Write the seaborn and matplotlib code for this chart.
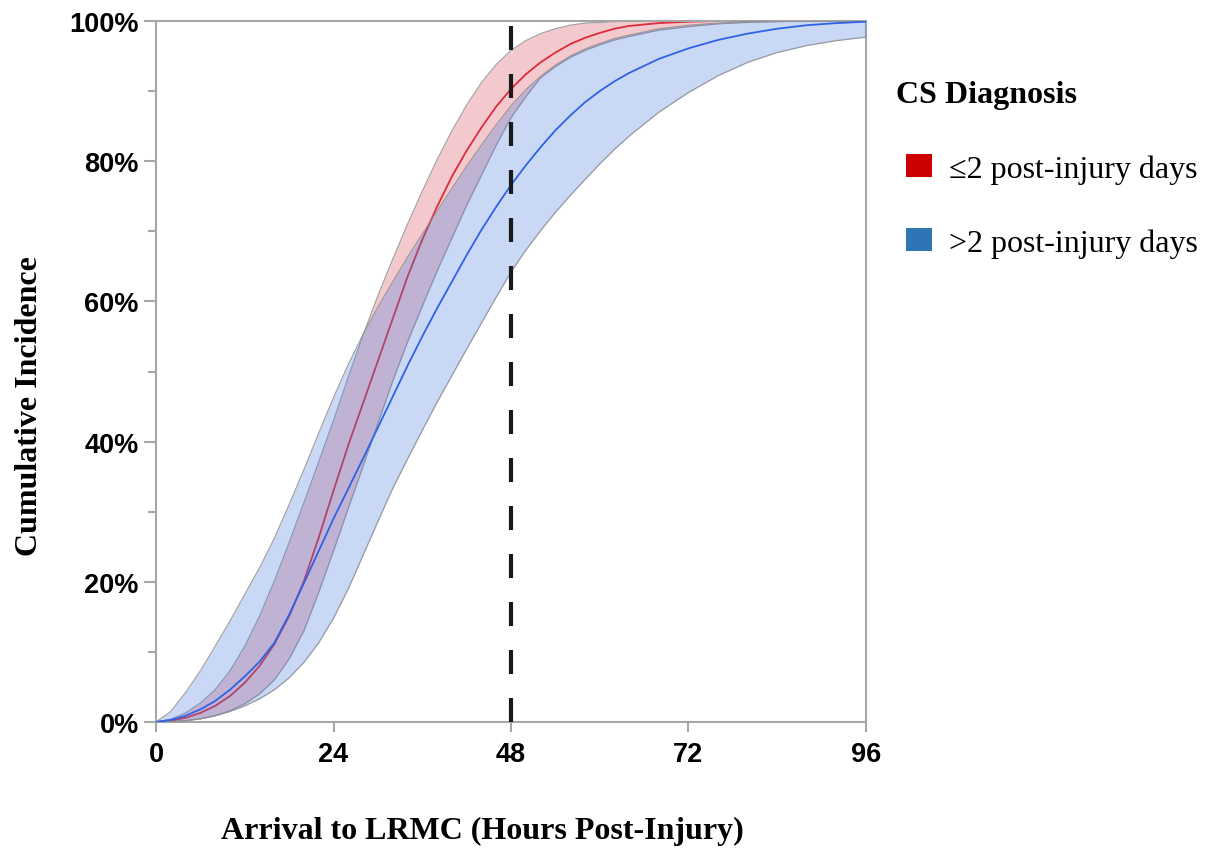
import matplotlib
matplotlib.use("Agg")
import matplotlib.pyplot as plt
from matplotlib.patches import Patch
from matplotlib.ticker import FuncFormatter, MultipleLocator
import seaborn as sns

# cumulative incidence (percent):
# every 2 h up to 64 h, then every 4 h
hours = [0, 2, 4, 6, 8, 10, 12, 14, 16, 18, 20, 22, 24, 26, 28, 30, 32,
         34, 36, 38, 40, 42, 44, 46, 48, 50, 52, 54, 56, 58, 60, 62, 64,
         68, 72, 76, 80, 84, 88, 92, 96]

red_mid = [0, 0.2, 0.6, 1.3, 2.3, 3.7, 5.6, 8, 11.1, 15.1, 20.1, 26.3, 33,
           39.5, 45.5, 51.5, 57.5, 63.5, 68.8, 73.5, 77.8, 81.5, 84.8, 87.8,
           90.3, 92.4, 94.1, 95.5, 96.7, 97.6, 98.3, 98.9, 99.3,
           99.7, 99.9, 100, 100, 100, 100, 100, 100]
red_hi = [0, 0.4, 1.3, 2.7, 4.6, 7.3, 10.8, 15.1, 20.1, 25.6, 31.3, 37.1, 43,
          49.2, 55.2, 60.8, 66, 71, 75.7, 80.2, 84.3, 88, 91.2, 93.8,
          95.8, 97.2, 98.2, 98.9, 99.4, 99.7, 99.8, 99.9, 100,
          100, 100, 100, 100, 100, 100, 100, 100]
red_lo = [0, 0.05, 0.2, 0.45, 0.9, 1.6, 2.6, 4, 6, 9, 13, 18.5, 24.4,
          30.5, 36.5, 42.6, 48.6, 54.2, 59.3, 64.3, 69, 73.7, 78, 82.3,
          86.2, 89.2, 91.9, 93.5, 94.8, 95.8, 96.6, 97.3, 97.8,
          98.7, 99.2, 99.6, 99.8, 99.9, 100, 100, 100]

blue_mid = [0, 0.3, 0.9, 1.8, 3, 4.6, 6.5, 8.6, 11.3, 15.3, 19.8, 24.4, 29,
            33.3, 37.6, 42, 46.4, 50.8, 55, 59, 62.8, 66.6, 70.2, 73.5,
            76.6, 79.4, 82, 84.4, 86.5, 88.4, 90, 91.4, 92.6,
            94.6, 96.1, 97.3, 98.2, 98.9, 99.4, 99.7, 99.9]
blue_hi = [0, 1.5, 4.2, 7.3, 10.8, 14.4, 18.2, 22, 26.2, 31, 36, 41.2, 46.3,
           51, 55.3, 59.2, 62.8, 66.3, 69.6, 72.9, 76.1, 79.3, 82.3, 85.2,
           87.9, 90.2, 92.1, 93.7, 95, 96, 96.8, 97.5, 98,
           98.9, 99.4, 99.7, 99.9, 100, 100, 100, 100]
blue_lo = [0, 0.05, 0.2, 0.45, 0.9, 1.5, 2.3, 3.3, 4.6, 6.3, 8.5, 11.3, 14.8,
           19, 23.8, 28.6, 33.3, 37.5, 41.6, 45.6, 49.4, 53.2, 56.9, 60.6,
           64.2, 67.3, 70.1, 72.7, 75.1, 77.4, 79.6, 81.7, 83.6,
           87, 89.8, 92.2, 94.1, 95.5, 96.5, 97.2, 97.7]

cutoff_hour = 48
x_ticks = [0, 24, 48, 72, 96]
legend_labels = ["\u22642 post-injury days", ">2 post-injury days"]

sns.set_theme(style="white")
serif = ["Liberation Serif", "DejaVu Serif"]
sans = ["Liberation Sans", "DejaVu Sans"]
plt.rcParams["font.family"] = serif
plt.rcParams["text.color"] = "black"
plt.rcParams["axes.labelcolor"] = "black"

fig = plt.figure(figsize=(12.08, 8.53), dpi=100)
ax = fig.add_axes([156 / 1208, 1 - 723 / 853, 710 / 1208, 701 / 853])

edge = dict(color="#8c8c8c", lw=0.9, alpha=0.8)

# red group first, blue band drawn over it
ax.fill_between(hours, red_lo, red_hi, color="#d94050", alpha=0.28, lw=0, zorder=1)
sns.lineplot(x=hours, y=red_hi, ax=ax, zorder=2, **edge)
sns.lineplot(x=hours, y=red_lo, ax=ax, zorder=2, **edge)
sns.lineplot(x=hours, y=red_mid, ax=ax, color="#dc2b3c", lw=1.3, zorder=2)

ax.fill_between(hours, blue_lo, blue_hi, color="#4a7fe0", alpha=0.3, lw=0, zorder=3)
sns.lineplot(x=hours, y=blue_hi, ax=ax, zorder=4, **edge)
sns.lineplot(x=hours, y=blue_lo, ax=ax, zorder=4, **edge)
sns.lineplot(x=hours, y=blue_mid, ax=ax, color="#2f62e6", lw=1.3, zorder=4)

ax.plot([cutoff_hour, cutoff_hour], [99.3, 0], color="#1a1a1a", lw=3,
        dashes=(5.76, 5.76), zorder=5)

ax.set_xlim(0, 96)
ax.set_ylim(0, 100)
ax.set_xticks(x_ticks)
ax.yaxis.set_major_locator(MultipleLocator(20))
ax.yaxis.set_minor_locator(MultipleLocator(10))
ax.yaxis.set_major_formatter(FuncFormatter(lambda v, p: f"{v:.0f}%"))

for s in ax.spines.values():
    s.set_color("#a6a6a6")
    s.set_linewidth(1.5)

ax.tick_params(axis="y", which="major", left=True, length=9, width=1.5,
               color="#a6a6a6", pad=3.5)
ax.tick_params(axis="y", which="minor", left=True, length=5.5, width=1.5,
               color="#a6a6a6")
ax.tick_params(axis="x", which="major", bottom=True, length=7, width=1.5,
               color="#a6a6a6", pad=7)
for lab in ax.get_xticklabels() + ax.get_yticklabels():
    lab.set_fontfamily(sans)
    lab.set_fontweight("bold")
    lab.set_fontsize(19.5)
    lab.set_color("black")

ax.set_xlabel("Arrival to LRMC (Hours Post-Injury)", fontsize=23,
              fontweight="bold", va="center")
ax.xaxis.set_label_coords(0.459, -0.155)
ax.set_ylabel("Cumulative Incidence", fontsize=23, fontweight="bold",
              va="center", ha="center")
ax.yaxis.set_label_coords(-0.1775, 0.452)

fig.text(896 / 1208, 1 - 95 / 853, "CS Diagnosis", fontsize=23,
         fontweight="bold", ha="left", va="center")
handles = [Patch(facecolor="#cc0000", edgecolor="none"),
           Patch(facecolor="#2e75b6", edgecolor="none")]
ax.legend(handles, legend_labels, loc="upper left",
          bbox_to_anchor=(906 / 1208, 1 - 155 / 853),
          bbox_transform=fig.transFigure, frameon=False, fontsize=23,
          borderpad=0, borderaxespad=0, handlelength=0.8, handleheight=0.72,
          handletextpad=0.56, labelspacing=1.4)

fig.savefig("out.png", dpi=100)
